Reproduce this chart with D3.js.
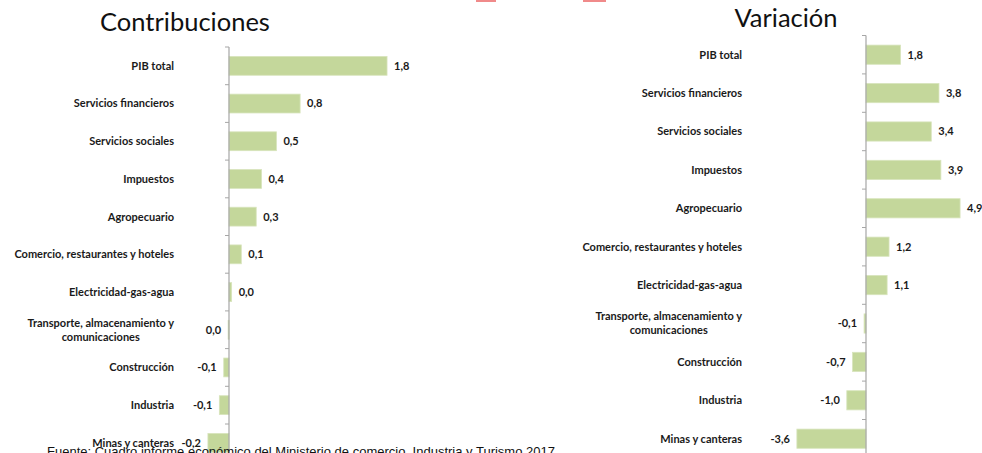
<!DOCTYPE html>
<html><head><meta charset="utf-8">
<script src="https://cdn.jsdelivr.net/npm/d3@7"></script>
<style>
html,body{margin:0;padding:0;background:#fff;overflow:hidden}
svg{display:block}
</style></head>
<body>
<svg id="c" width="982" height="453"></svg>
<script>
// ---- DATA ----
const catsContrib = ["PIB total","Servicios financieros","Servicios sociales","Impuestos","Agropecuario","Comercio, restaurantes y hoteles","Electricidad-gas-agua","Transporte, almacenamiento y|comunicaciones","Construcción","Industria","Minas y canteras"];
const valsContrib = [1.8, 0.81, 0.54, 0.37, 0.31, 0.14, 0.03, -0.01, -0.06, -0.11, -0.24];
const catsVar = ["PIB total","Servicios financieros","Servicios sociales","Impuestos","Agropecuario","Comercio, restaurantes y hoteles","Electricidad-gas-agua","Transporte, almacenamiento y|comunicaciones","Construcción","Industria","Minas y canteras"];
const valsVar = [1.8, 3.8, 3.4, 3.9, 4.9, 1.2, 1.1, -0.1, -0.7, -1.0, -3.6];
const titles = ["Contribuciones","Variación"];
const source = "Fuente: Cuadro informe económico del Ministerio de comercio, Industria y Turismo 2017";

const svg = d3.select("#c");
const fmt = v => { let s = d3.format(".1f")(v); s = s.replace("−","-"); if (s === "-0.0") s = "0.0"; return s.replace(".", ","); };
const LBL = 11;

// decorative red fragments at top edge
svg.append("rect").attr("x",476).attr("y",0).attr("width",20).attr("height",2).attr("fill","#f08a8a");
svg.append("rect").attr("x",583).attr("y",0).attr("width",23).attr("height",2).attr("fill","#f08a8a");

function panel(cfg){
  const g = svg.append("g");
  const x = d3.scaleLinear().domain(cfg.xDomain).range(cfg.xRange);
  const y = d3.scaleBand().domain(cfg.cats).range(cfg.yRange).paddingInner(0.5).paddingOuter(0.25);
  const step = y.step();
  const data = cfg.cats.map((c,i)=>({c, v: cfg.vals[i]}));

  // title
  g.append("text").attr("x",cfg.titleX).attr("y",cfg.titleY)
    .attr("text-anchor","middle").attr("font-family","Lato, 'Open Sans', sans-serif")
    .attr("font-size",cfg.titleSize).attr("fill","#111").text(cfg.title);

  // bars
  g.selectAll("rect.bar").data(data).enter().append("rect").attr("class","bar")
    .attr("x", d => Math.min(x(0), x(d.v)))
    .attr("y", d => y(d.c))
    .attr("width", d => Math.max(1, Math.abs(x(d.v)-x(0))))
    .attr("height", y.bandwidth())
    .attr("fill","#c4d79b").attr("stroke","#d8e4bc").attr("stroke-width",0.8);

  // axis line + ticks between categories
  g.append("line").attr("x1",x(0)).attr("x2",x(0)).attr("y1",cfg.yRange[0]).attr("y2",cfg.yRange[1])
    .attr("stroke","#a6a6a6").attr("stroke-width",1.2);
  const bounds = d3.range(cfg.cats.length+1).map(i => cfg.yRange[0] + i*step);
  g.selectAll("line.tk").data(bounds).enter().append("line").attr("class","tk")
    .attr("x1",x(0)-4).attr("x2",x(0)).attr("y1",d=>d).attr("y2",d=>d)
    .attr("stroke","#a6a6a6").attr("stroke-width",1);

  // value labels
  g.selectAll("text.val").data(data).enter().append("text").attr("class","val")
    .attr("x", d => d.v >= 0 ? x(d.v)+7 : x(d.v)-7)
    .attr("y", d => y(d.c)+y.bandwidth()/2)
    .attr("dy","0.35em")
    .attr("text-anchor", d => d.v >= 0 ? "start" : "end")
    .attr("font-family","Lato, sans-serif").attr("font-weight","bold").attr("font-size",LBL)
    .attr("fill","#1a1a1a").text(d => fmt(d.v));

  // category labels
  data.forEach(d => {
    const cy = y(d.c)+y.bandwidth()/2;
    const parts = d.c.split("|");
    const mk = (xx, yy, anchor, txt) => g.append("text").attr("x",xx).attr("y",yy).attr("dy","0.35em")
        .attr("text-anchor",anchor).attr("font-family","Lato, sans-serif").attr("font-weight","bold")
        .attr("font-size",LBL).attr("fill","#1a1a1a").text(txt);
    if (parts.length === 1) {
      mk(cfg.labelX, cy, "end", parts[0]);
    } else {
      const t1 = mk(cfg.labelX, cy-7, "end", parts[0]);
      const w = t1.node().getComputedTextLength();
      mk(cfg.labelX - w/2, cy+7, "middle", parts[1]);
    }
  });
}

panel({cats:catsContrib, vals:valsContrib, title:titles[0],
  xDomain:[-0.25, 2.0], xRange:[229-0.25*87.8, 229+2.0*87.8],
  yRange:[47, 47+11*37.7], labelX:174, titleX:185, titleY:31, titleSize:25.5});
panel({cats:catsVar, vals:valsVar, title:titles[1],
  xDomain:[-4, 5], xRange:[866-4*19.2, 866+5*19.2],
  yRange:[35.5, 35.5+11*38.4], labelX:742, titleX:786, titleY:27, titleSize:25.5});

// source note
svg.append("text").attr("x",47).attr("y",456).attr("font-family","Arial, 'Liberation Sans', sans-serif")
  .attr("font-size",13).attr("fill","#111").text(source);
</script>
</body></html>
